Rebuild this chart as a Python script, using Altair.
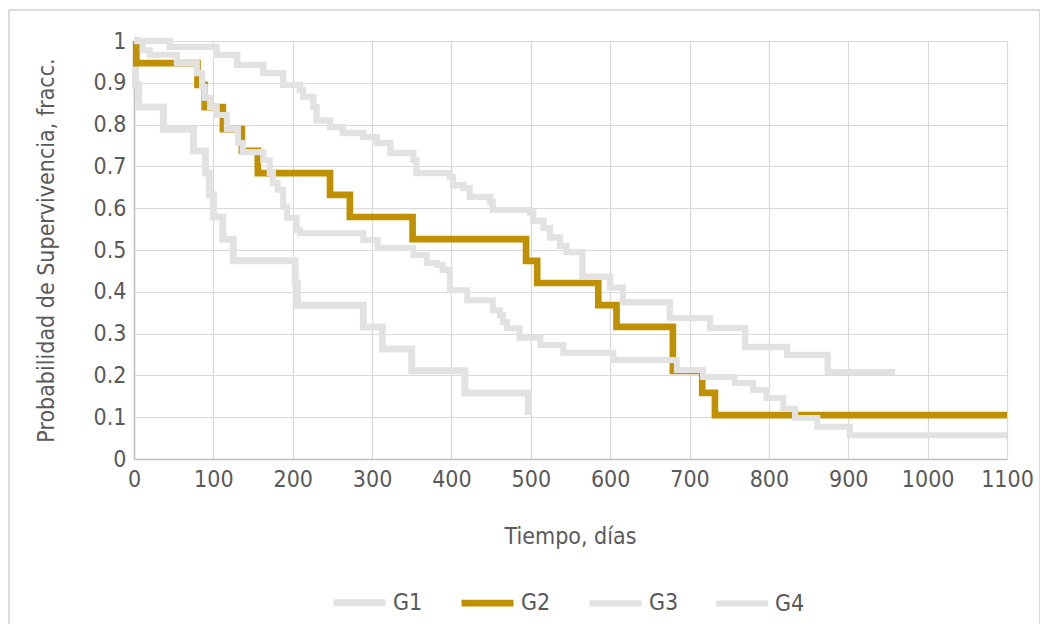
import altair as alt
import pandas as pd

# ---- data ----
groups = ["G1", "G2", "G3", "G4"]

g1_days = [0, 2, 6, 37, 75, 90, 95, 100, 112, 125, 203, 206, 289, 313, 350, 417, 497]
g1_surv = [1.0, 0.895, 0.842, 0.789, 0.737, 0.684, 0.632, 0.579, 0.526, 0.474,
           0.421, 0.368, 0.316, 0.263, 0.211, 0.158, 0.105]

g2_days = [0, 3, 80, 89, 112, 136, 156, 247, 272, 351, 494, 508, 585, 608, 679, 716, 732, 1100]
g2_surv = [1.0, 0.947, 0.895, 0.842, 0.789, 0.737, 0.684, 0.632, 0.579, 0.526,
           0.474, 0.421, 0.368, 0.316, 0.211, 0.158, 0.105, 0.105]

g3_days = [0, 45, 104, 130, 163, 188, 209, 213, 226, 230, 247, 263, 289, 306, 323, 352,
           356, 398, 402, 415, 423, 449, 452, 499, 503, 516, 524, 537, 545, 565, 600, 616,
           675, 726, 770, 823, 874, 959]
g3_surv = [1.0, 0.986, 0.967, 0.943, 0.923, 0.895, 0.883, 0.866, 0.842, 0.81, 0.794, 0.78,
           0.77, 0.756, 0.732, 0.715, 0.684, 0.675, 0.655, 0.648, 0.627, 0.615, 0.596, 0.59,
           0.57, 0.553, 0.53, 0.51, 0.495, 0.436, 0.41, 0.375, 0.337, 0.313, 0.268, 0.249,
           0.208, 0.208]

g4_days = [0, 11, 20, 54, 79, 86, 89, 96, 104, 117, 131, 137, 163, 171, 175, 181, 188, 193,
           205, 209, 289, 307, 352, 369, 382, 389, 398, 420, 452, 461, 465, 470, 486, 512,
           541, 604, 684, 717, 757, 780, 797, 818, 833, 861, 902, 1100]
g4_surv = [1.0, 0.978, 0.967, 0.947, 0.923, 0.89, 0.864, 0.842, 0.823, 0.79, 0.756, 0.734,
           0.715, 0.684, 0.66, 0.644, 0.603, 0.577, 0.548, 0.54, 0.524, 0.505, 0.488, 0.469,
           0.464, 0.452, 0.404, 0.38, 0.356, 0.344, 0.328, 0.313, 0.29, 0.273, 0.254, 0.237,
           0.213, 0.196, 0.182, 0.165, 0.146, 0.12, 0.098, 0.077, 0.057, 0.057]

x_ticks = list(range(0, 1101, 100))
y_ticks = [round(i / 10, 1) for i in range(11)]

series_colors = ["#E2E2E2", "#BF9000", "#E2E2E2", "#E2E2E2"]
series_widths = [7, 6, 3, 3]

rows = []
for name, days, surv in [("G1", g1_days, g1_surv), ("G2", g2_days, g2_surv),
                         ("G3", g3_days, g3_surv), ("G4", g4_days, g4_surv)]:
    for d, s in zip(days, surv):
        rows.append({"grupo": name, "dias": d, "surv": s})
df = pd.DataFrame(rows)

FONT = "DejaVu Sans Condensed, sans-serif"
TXT = "#595959"

legend_opts = dict(title=None, orient="none", direction="horizontal",
                   legendX=196, legendY=532, symbolType="stroke",
                   symbolSize=2700, labelOffset=4, columnPadding=25,
                   labelFontSize=23, labelFont=FONT, labelColor=TXT)

x_enc = alt.X("dias:Q",
              scale=alt.Scale(domain=[0, 1100], nice=False),
              axis=alt.Axis(values=x_ticks, format="d", title="Tiempo, días", grid=True,
                            titleX=436, titleY=77, titleBaseline="middle",
                            labelPadding=9, labelOverlap=False, labelFlush=False))
y_enc = alt.Y("surv:Q",
              scale=alt.Scale(domain=[0, 1], nice=False),
              axis=alt.Axis(values=y_ticks, format="~g",
                            title="Probabilidad de Supervivencia, fracc.", grid=True,
                            titleAngle=-90, titleX=-88, titleY=209,
                            titleAlign="center", titleBaseline="middle",
                            labelPadding=8, labelOverlap=False, labelFlush=False))
color_enc = alt.Color("grupo:N", scale=alt.Scale(domain=groups, range=series_colors),
                      legend=alt.Legend(**legend_opts))
width_enc = alt.StrokeWidth("grupo:N", scale=alt.Scale(domain=groups, range=series_widths),
                            legend=alt.Legend(**legend_opts))

base = alt.Chart(df)

lower = base.transform_filter(
    alt.FieldOneOfPredicate(field="grupo", oneOf=["G1", "G2"])
).mark_line(interpolate="step-after", strokeJoin="miter").encode(
    x=x_enc, y=y_enc, color=color_enc, strokeWidth=width_enc,
    detail="grupo:N", order=alt.Order("dias:Q"),
)

casing = base.transform_filter(
    alt.FieldOneOfPredicate(field="grupo", oneOf=["G3", "G4"])
).mark_line(interpolate="step-after", strokeJoin="miter", color="white",
            strokeWidth=5.5).encode(
    x="dias:Q", y="surv:Q", detail="grupo:N", order=alt.Order("dias:Q"),
)

upper = base.transform_filter(
    alt.FieldOneOfPredicate(field="grupo", oneOf=["G3", "G4"])
).mark_line(interpolate="step-after", strokeJoin="miter").encode(
    x=x_enc, y=y_enc, color=color_enc, strokeWidth=width_enc,
    detail="grupo:N", order=alt.Order("dias:Q"),
)

frame_df = pd.DataFrame({"k": [0]})
frame = alt.Chart(frame_df).mark_rect(fill=None, stroke="#D0D0D0", strokeWidth=1.5,
                                      clip=False).encode(
    x=alt.value(-125), x2=alt.value(906),
    y=alt.value(-31), y2=alt.value(600),
)

chart = alt.layer(frame, lower, casing, upper).properties(
    width=873, height=418,
    autosize=alt.AutoSizeParams(type="none"),
    padding={"left": 126, "top": 33, "right": 33, "bottom": 165},
    background="white",
).configure_view(stroke=None).configure_axis(
    labelFont=FONT, titleFont=FONT, labelFontSize=23, titleFontSize=23,
    labelColor=TXT, titleColor=TXT, titleFontWeight="normal",
    gridColor="#D9D9D9", gridWidth=1.2, domainColor="#BFBFBF", domainWidth=1.5,
    ticks=False,
)

chart.save("out.html", embed_options={"renderer": "svg", "actions": False})
